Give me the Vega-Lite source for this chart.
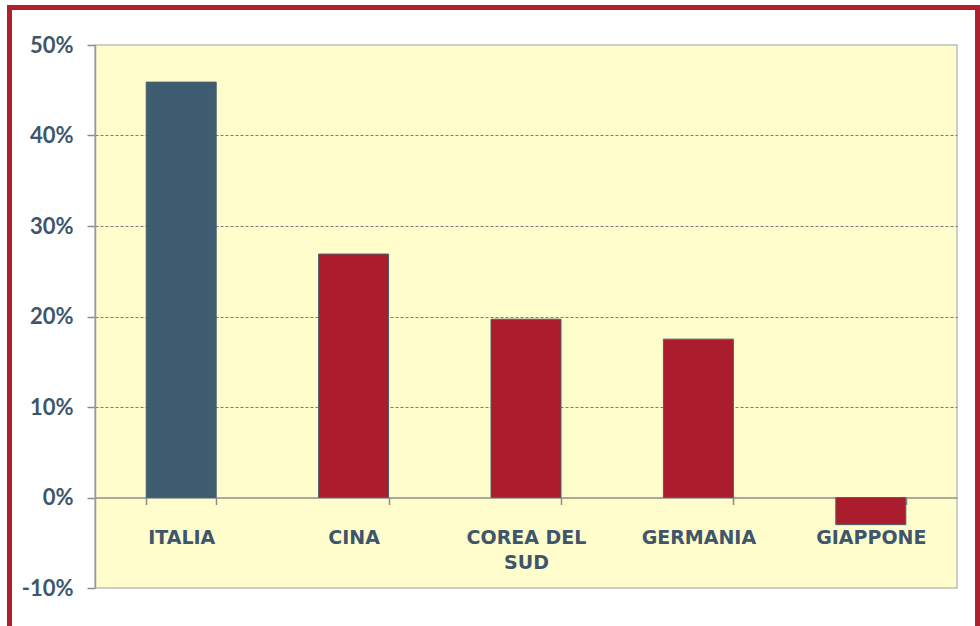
{
  "$schema": "https://vega.github.io/schema/vega-lite/v6.json",
  "width": 862,
  "height": 543,
  "autosize": {"type": "none"},
  "padding": {"left": 95, "top": 45, "right": 23, "bottom": 38},
  "background": "white",
  "config": {"view": {"fill": "#FFFDCC", "stroke": "#BDBDBD", "strokeWidth": 1.5}},
  "resolve": {"scale": {"x": "independent", "y": "independent"}},
  "layer": [
    {
      "data": {"values": [
        {"paese": "ITALIA", "valore": 45.9, "gruppo": "Italia"},
        {"paese": "CINA", "valore": 26.9, "gruppo": "Altri"},
        {"paese": "COREA DEL SUD", "valore": 19.7, "gruppo": "Altri"},
        {"paese": "GERMANIA", "valore": 17.5, "gruppo": "Altri"},
        {"paese": "GIAPPONE", "valore": -3.0, "gruppo": "Altri"}
      ]},
      "mark": {"type": "bar", "stroke": "#4B6070", "strokeWidth": 1},
      "encoding": {
        "x": {
          "field": "paese", "type": "nominal", "sort": null,
          "scale": {"paddingInner": 0.594, "paddingOuter": 0.297},
          "axis": {
            "title": null, "orient": "bottom", "offset": -90.5,
            "domainColor": "#8C8C8C", "domainWidth": 1.5,
            "tickBand": "extent", "tickColor": "#8C8C8C", "tickSize": 7, "tickWidth": 1.5,
            "labelAngle": 0, "labelFont": "DejaVu Sans", "labelFontWeight": "bold", "labelFontSize": 19,
            "labelColor": "#3E566B", "labelPadding": 24, "labelLineHeight": 25, "labelBaseline": "top",
            "labelExpr": "datum.value == 'COREA DEL SUD' ? ['COREA DEL', 'SUD'] : datum.value"
          }
        },
        "y": {
          "field": "valore", "type": "quantitative",
          "scale": {"domain": [-10, 50], "nice": false, "zero": false},
          "axis": {
            "title": null, "values": [-10, 0, 10, 20, 30, 40, 50],
            "labelExpr": "datum.value + '%'",
            "labelFont": "Lato", "labelFontWeight": "bold", "labelFontSize": 22, "labelColor": "#3E566B",
            "labelPadding": 14, "tickSize": 8, "tickColor": "#8C8C8C", "tickWidth": 1.5,
            "domainColor": "#9A9A9A", "domainWidth": 1.5,
            "grid": true, "gridColor": "#7A7A7A", "gridDash": [3, 2], "gridWidth": 1,
            "gridOpacity": {"condition": {"test": "datum.value == 50 || datum.value == -10 || datum.value == 0", "value": 0}, "value": 1}
          }
        },
        "color": {
          "field": "gruppo", "type": "nominal",
          "scale": {"domain": ["Italia", "Altri"], "range": ["#3F5D71", "#AB1D2C"]},
          "legend": null
        }
      }
    },
    {
      "data": {"values": [{"cornice": "bordo"}]},
      "mark": {"type": "rect", "fill": "transparent", "stroke": "#B01F2E", "strokeWidth": 5, "clip": false},
      "encoding": {
        "x": {"datum": -0.0992, "type": "quantitative", "scale": {"domain": [0, 1], "nice": false, "zero": false}, "axis": null},
        "x2": {"datum": 1.0238},
        "y": {"datum": 54.14, "type": "quantitative", "scale": {"domain": [-10, 50], "nice": false, "zero": false}, "axis": null},
        "y2": {"datum": -20}
      }
    }
  ]
}
